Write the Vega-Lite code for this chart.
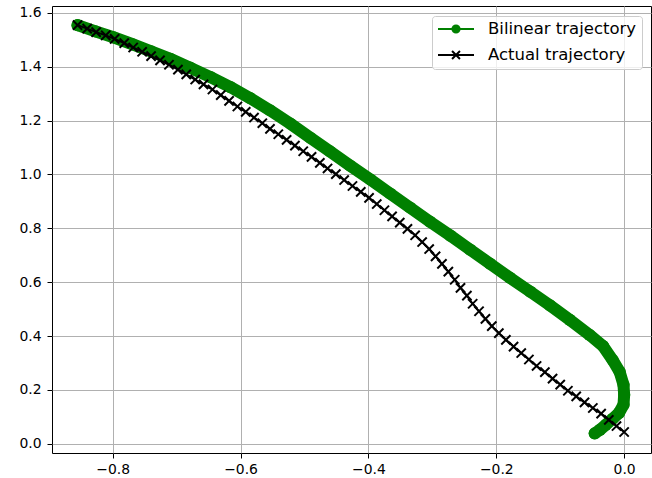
{
  "$schema": "https://vega.github.io/schema/vega-lite/v6.json",
  "width": 599,
  "height": 447,
  "autosize": "none",
  "padding": {"left": 52, "top": 6, "right": 1, "bottom": 25},
  "background": "white",
  "config": {
    "font": "DejaVu Sans",
    "view": {"stroke": "black", "strokeWidth": 1},
    "axis": {
      "domain": false,
      "gridColor": "#b0b0b0",
      "gridWidth": 1,
      "gridOpacity": 1,
      "tickColor": "black",
      "tickSize": 5,
      "tickWidth": 1,
      "labelFontSize": 13.9,
      "labelColor": "black",
      "labelFont": "DejaVu Sans",
      "title": null
    }
  },
  "data": {
    "values": [
      {"series": "Bilinear trajectory", "i": 0, "x": -0.855, "y": 1.554},
      {"series": "Bilinear trajectory", "i": 1, "x": -0.827, "y": 1.531},
      {"series": "Bilinear trajectory", "i": 2, "x": -0.799, "y": 1.509},
      {"series": "Bilinear trajectory", "i": 3, "x": -0.769, "y": 1.483},
      {"series": "Bilinear trajectory", "i": 4, "x": -0.740, "y": 1.457},
      {"series": "Bilinear trajectory", "i": 5, "x": -0.710, "y": 1.429},
      {"series": "Bilinear trajectory", "i": 6, "x": -0.679, "y": 1.396},
      {"series": "Bilinear trajectory", "i": 7, "x": -0.647, "y": 1.361},
      {"series": "Bilinear trajectory", "i": 8, "x": -0.616, "y": 1.324},
      {"series": "Bilinear trajectory", "i": 9, "x": -0.585, "y": 1.283},
      {"series": "Bilinear trajectory", "i": 10, "x": -0.554, "y": 1.238},
      {"series": "Bilinear trajectory", "i": 11, "x": -0.522, "y": 1.188},
      {"series": "Bilinear trajectory", "i": 12, "x": -0.491, "y": 1.136},
      {"series": "Bilinear trajectory", "i": 13, "x": -0.460, "y": 1.085},
      {"series": "Bilinear trajectory", "i": 14, "x": -0.429, "y": 1.033},
      {"series": "Bilinear trajectory", "i": 15, "x": -0.397, "y": 0.981},
      {"series": "Bilinear trajectory", "i": 16, "x": -0.366, "y": 0.929},
      {"series": "Bilinear trajectory", "i": 17, "x": -0.335, "y": 0.877},
      {"series": "Bilinear trajectory", "i": 18, "x": -0.304, "y": 0.825},
      {"series": "Bilinear trajectory", "i": 19, "x": -0.272, "y": 0.773},
      {"series": "Bilinear trajectory", "i": 20, "x": -0.241, "y": 0.721},
      {"series": "Bilinear trajectory", "i": 21, "x": -0.210, "y": 0.669},
      {"series": "Bilinear trajectory", "i": 22, "x": -0.179, "y": 0.617},
      {"series": "Bilinear trajectory", "i": 23, "x": -0.147, "y": 0.565},
      {"series": "Bilinear trajectory", "i": 24, "x": -0.116, "y": 0.514},
      {"series": "Bilinear trajectory", "i": 25, "x": -0.085, "y": 0.460},
      {"series": "Bilinear trajectory", "i": 26, "x": -0.054, "y": 0.404},
      {"series": "Bilinear trajectory", "i": 27, "x": -0.033, "y": 0.363},
      {"series": "Bilinear trajectory", "i": 28, "x": -0.018, "y": 0.311},
      {"series": "Bilinear trajectory", "i": 29, "x": -0.007, "y": 0.267},
      {"series": "Bilinear trajectory", "i": 30, "x": -0.001, "y": 0.219},
      {"series": "Bilinear trajectory", "i": 31, "x": 0.000, "y": 0.182},
      {"series": "Bilinear trajectory", "i": 32, "x": -0.001, "y": 0.145},
      {"series": "Bilinear trajectory", "i": 33, "x": -0.008, "y": 0.115},
      {"series": "Bilinear trajectory", "i": 34, "x": -0.018, "y": 0.093},
      {"series": "Bilinear trajectory", "i": 35, "x": -0.029, "y": 0.070},
      {"series": "Bilinear trajectory", "i": 36, "x": -0.038, "y": 0.052},
      {"series": "Bilinear trajectory", "i": 37, "x": -0.046, "y": 0.039},
      {"series": "Actual trajectory", "i": 0, "x": -0.855, "y": 1.554},
      {"series": "Actual trajectory", "i": 1, "x": -0.840, "y": 1.541},
      {"series": "Actual trajectory", "i": 2, "x": -0.826, "y": 1.528},
      {"series": "Actual trajectory", "i": 3, "x": -0.811, "y": 1.516},
      {"series": "Actual trajectory", "i": 4, "x": -0.797, "y": 1.503},
      {"series": "Actual trajectory", "i": 5, "x": -0.782, "y": 1.487},
      {"series": "Actual trajectory", "i": 6, "x": -0.768, "y": 1.471},
      {"series": "Actual trajectory", "i": 7, "x": -0.754, "y": 1.455},
      {"series": "Actual trajectory", "i": 8, "x": -0.740, "y": 1.439},
      {"series": "Actual trajectory", "i": 9, "x": -0.726, "y": 1.423},
      {"series": "Actual trajectory", "i": 10, "x": -0.712, "y": 1.407},
      {"series": "Actual trajectory", "i": 11, "x": -0.698, "y": 1.389},
      {"series": "Actual trajectory", "i": 12, "x": -0.685, "y": 1.371},
      {"series": "Actual trajectory", "i": 13, "x": -0.671, "y": 1.352},
      {"series": "Actual trajectory", "i": 14, "x": -0.658, "y": 1.334},
      {"series": "Actual trajectory", "i": 15, "x": -0.644, "y": 1.315},
      {"series": "Actual trajectory", "i": 16, "x": -0.631, "y": 1.294},
      {"series": "Actual trajectory", "i": 17, "x": -0.618, "y": 1.273},
      {"series": "Actual trajectory", "i": 18, "x": -0.605, "y": 1.252},
      {"series": "Actual trajectory", "i": 19, "x": -0.592, "y": 1.232},
      {"series": "Actual trajectory", "i": 20, "x": -0.579, "y": 1.211},
      {"series": "Actual trajectory", "i": 21, "x": -0.566, "y": 1.190},
      {"series": "Actual trajectory", "i": 22, "x": -0.554, "y": 1.169},
      {"series": "Actual trajectory", "i": 23, "x": -0.541, "y": 1.149},
      {"series": "Actual trajectory", "i": 24, "x": -0.528, "y": 1.128},
      {"series": "Actual trajectory", "i": 25, "x": -0.515, "y": 1.107},
      {"series": "Actual trajectory", "i": 26, "x": -0.502, "y": 1.086},
      {"series": "Actual trajectory", "i": 27, "x": -0.489, "y": 1.065},
      {"series": "Actual trajectory", "i": 28, "x": -0.476, "y": 1.043},
      {"series": "Actual trajectory", "i": 29, "x": -0.464, "y": 1.022},
      {"series": "Actual trajectory", "i": 30, "x": -0.451, "y": 1.001},
      {"series": "Actual trajectory", "i": 31, "x": -0.438, "y": 0.979},
      {"series": "Actual trajectory", "i": 32, "x": -0.425, "y": 0.957},
      {"series": "Actual trajectory", "i": 33, "x": -0.412, "y": 0.935},
      {"series": "Actual trajectory", "i": 34, "x": -0.399, "y": 0.913},
      {"series": "Actual trajectory", "i": 35, "x": -0.387, "y": 0.890},
      {"series": "Actual trajectory", "i": 36, "x": -0.375, "y": 0.867},
      {"series": "Actual trajectory", "i": 37, "x": -0.363, "y": 0.844},
      {"series": "Actual trajectory", "i": 38, "x": -0.351, "y": 0.821},
      {"series": "Actual trajectory", "i": 39, "x": -0.339, "y": 0.798},
      {"series": "Actual trajectory", "i": 40, "x": -0.327, "y": 0.774},
      {"series": "Actual trajectory", "i": 41, "x": -0.316, "y": 0.749},
      {"series": "Actual trajectory", "i": 42, "x": -0.305, "y": 0.723},
      {"series": "Actual trajectory", "i": 43, "x": -0.295, "y": 0.696},
      {"series": "Actual trajectory", "i": 44, "x": -0.285, "y": 0.668},
      {"series": "Actual trajectory", "i": 45, "x": -0.275, "y": 0.639},
      {"series": "Actual trajectory", "i": 46, "x": -0.265, "y": 0.609},
      {"series": "Actual trajectory", "i": 47, "x": -0.256, "y": 0.579},
      {"series": "Actual trajectory", "i": 48, "x": -0.246, "y": 0.550},
      {"series": "Actual trajectory", "i": 49, "x": -0.237, "y": 0.520},
      {"series": "Actual trajectory", "i": 50, "x": -0.227, "y": 0.492},
      {"series": "Actual trajectory", "i": 51, "x": -0.217, "y": 0.464},
      {"series": "Actual trajectory", "i": 52, "x": -0.207, "y": 0.437},
      {"series": "Actual trajectory", "i": 53, "x": -0.196, "y": 0.411},
      {"series": "Actual trajectory", "i": 54, "x": -0.185, "y": 0.386},
      {"series": "Actual trajectory", "i": 55, "x": -0.173, "y": 0.361},
      {"series": "Actual trajectory", "i": 56, "x": -0.161, "y": 0.337},
      {"series": "Actual trajectory", "i": 57, "x": -0.149, "y": 0.313},
      {"series": "Actual trajectory", "i": 58, "x": -0.137, "y": 0.289},
      {"series": "Actual trajectory", "i": 59, "x": -0.124, "y": 0.266},
      {"series": "Actual trajectory", "i": 60, "x": -0.112, "y": 0.242},
      {"series": "Actual trajectory", "i": 61, "x": -0.100, "y": 0.220},
      {"series": "Actual trajectory", "i": 62, "x": -0.088, "y": 0.197},
      {"series": "Actual trajectory", "i": 63, "x": -0.075, "y": 0.176},
      {"series": "Actual trajectory", "i": 64, "x": -0.062, "y": 0.154},
      {"series": "Actual trajectory", "i": 65, "x": -0.049, "y": 0.133},
      {"series": "Actual trajectory", "i": 66, "x": -0.036, "y": 0.112},
      {"series": "Actual trajectory", "i": 67, "x": -0.024, "y": 0.089},
      {"series": "Actual trajectory", "i": 68, "x": -0.012, "y": 0.066},
      {"series": "Actual trajectory", "i": 69, "x": 0.000, "y": 0.044}
    ]
  },
  "encoding": {
    "x": {
      "field": "x",
      "type": "quantitative",
      "scale": {"domain": [-0.895, 0.042], "nice": false, "zero": false},
      "axis": {"values": [-0.8, -0.6, -0.4, -0.2, 0], "format": ".1f", "labelPadding": 4}
    },
    "y": {
      "field": "y",
      "type": "quantitative",
      "scale": {"domain": [-0.034, 1.625], "nice": false, "zero": false},
      "axis": {"values": [0, 0.2, 0.4, 0.6, 0.8, 1.0, 1.2, 1.4, 1.6], "format": ".1f", "labelPadding": 6}
    },
    "order": {"field": "i", "type": "quantitative"},
    "color": {
      "field": "series",
      "type": "nominal",
      "scale": {"domain": ["Bilinear trajectory", "Actual trajectory"], "range": ["#008000", "#000000"]},
      "legend": {
        "orient": "none",
        "legendX": 380,
        "legendY": 10,
        "title": null,
        "padding": 5,
        "symbolSize": 1296,
        "symbolStrokeWidth": 2,
        "clipHeight": 16,
        "rowPadding": 9,
        "labelOffset": 13,
        "labelFontSize": 16.5,
        "labelColor": "black",
        "labelFont": "DejaVu Sans",
        "fillColor": "rgba(255,255,255,0.8)",
        "strokeColor": "#cccccc",
        "cornerRadius": 3,
        "encode": {
          "symbols": {
            "update": {
              "shape": {"signal": "datum.value === 'Bilinear trajectory' ? 'M-1,0L1,0M-0.2,0A0.2,0.2,0,1,0,0.2,0A0.2,0.2,0,1,0,-0.2,0Z' : 'M-1,0L1,0M-0.22,-0.22L0.22,0.22M-0.22,0.22L0.22,-0.22'"},
              "fill": {"signal": "datum.value === 'Bilinear trajectory' ? '#008000' : 'transparent'"},
              "stroke": {"signal": "datum.value === 'Bilinear trajectory' ? '#008000' : '#000000'"},
              "strokeWidth": {"value": 2},
              "opacity": {"value": 1},
              "size": {"value": 1296}
            }
          }
        }
      }
    }
  },
  "layer": [
    {
      "transform": [{"filter": "datum.series === 'Bilinear trajectory'"}],
      "mark": {"type": "line", "strokeWidth": 12, "strokeCap": "round", "strokeJoin": "round"}
    },
    {
      "transform": [{"filter": "datum.series === 'Bilinear trajectory'"}],
      "mark": {"type": "point", "shape": "circle", "filled": true, "size": 150, "opacity": 1}
    },
    {
      "transform": [{"filter": "datum.series === 'Actual trajectory'"}],
      "mark": {"type": "line", "strokeWidth": 2}
    },
    {
      "transform": [{"filter": "datum.series === 'Actual trajectory'"}],
      "mark": {"type": "point", "shape": "M-1,-1L1,1M-1,1L1,-1", "filled": false, "size": 85, "strokeWidth": 2, "opacity": 1}
    }
  ]
}
